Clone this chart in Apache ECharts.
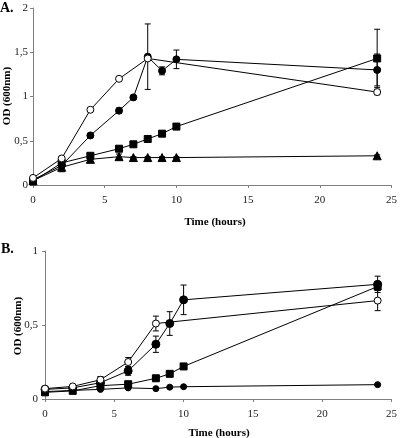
<!DOCTYPE html>
<html>
<head>
<meta charset="utf-8">
<script src="https://cdn.jsdelivr.net/npm/echarts@6/dist/echarts.min.js"></script>
<style>html,body{margin:0;padding:0;background:#fff}#c{width:400px;height:438px}</style>
</head>
<body>
<div id="c"></div>
<script>
// ---- Panel A data ----
const hoursA = [0, 2, 4, 6, 7, 8, 9, 10, 24];
const hoursAOpen = [0, 2, 4, 6, 8, 24];
const aOpen = [0.08, 0.30, 0.85, 1.20, 1.43, 1.05];
const aOpenErr = [0, 0.02, 0.02, 0.02, 0.02, 0.03];
const aFilled = [0.06, 0.22, 0.56, 0.84, 0.99, 1.45, 1.29, 1.42, 1.30];
const aFilledErr = [0, 0, 0.02, 0.03, 0.02, 0.37, 0.045, 0.105, 0.18];
const aSquare = [0.04, 0.25, 0.33, 0.41, 0.46, 0.52, 0.58, 0.66, 1.43];
const aSquareErr = [0, 0.02, 0.02, 0.02, 0.01, 0.01, 0.01, 0.02, 0.33];
const aTriangle = [0.05, 0.20, 0.29, 0.32, 0.31, 0.31, 0.31, 0.31, 0.33];
const aTriangleErr = [0, 0.05, 0.02, 0.03, 0.01, 0.01, 0.01, 0.01, 0.01];

// ---- Panel B data ----
const hoursB = [0, 2, 4, 6, 8, 9, 10, 24];
const hoursBOpen = [0, 2, 4, 6, 8, 24];
const bOpen = [0.07, 0.085, 0.13, 0.25, 0.51, 0.665];
const bOpenErr = [0, 0.01, 0.022, 0.03, 0.05, 0.068];
const bFilled = [0.065, 0.075, 0.11, 0.19, 0.37, 0.51, 0.67, 0.775];
const bFilledErr = [0, 0, 0.01, 0.03, 0.055, 0.08, 0.1, 0.055];
const bSquare = [0.045, 0.055, 0.09, 0.10, 0.14, 0.17, 0.22, 0.76];
const bSquareErr = [0, 0, 0.01, 0.01, 0.01, 0.01, 0.02, 0.02];
const bSmall = [0.05, 0.058, 0.065, 0.075, 0.07, 0.08, 0.083, 0.097];
const bSmallErr = [0, 0, 0.005, 0.005, 0.005, 0.005, 0.005, 0.006];

const xName = 'Time (hours)';
const yName = 'OD (600nm)';

const FONT = '"Liberation Serif", "Times New Roman", serif';
const AXIS_COLOR = '#808080';

function pairs(xs, ys) { return xs.map((x, i) => [x, ys[i]]); }
function errs(xs, ys, es) {
  const out = [];
  xs.forEach((x, i) => { if (es[i] > 0) out.push([x, ys[i] - es[i], ys[i] + es[i]]); });
  return out;
}

function errSeries(idx, data) {
  return {
    type: 'custom', xAxisIndex: idx, yAxisIndex: idx, z: 1,
    encode: { x: 0, y: [1, 2] },
    data: data,
    renderItem: function (params, api) {
      const x = api.value(0), lo = api.value(1), hi = api.value(2);
      const pt = api.coord([x, hi]), pb = api.coord([x, lo]);
      const w = 3;
      const st = { stroke: '#000', lineWidth: 1 };
      return {
        type: 'group', children: [
          { type: 'line', shape: { x1: pt[0], y1: pt[1], x2: pb[0], y2: pb[1] }, style: st },
          { type: 'line', shape: { x1: pt[0] - w, y1: pt[1], x2: pt[0] + w, y2: pt[1] }, style: st },
          { type: 'line', shape: { x1: pb[0] - w, y1: pb[1], x2: pb[0] + w, y2: pb[1] }, style: st }
        ]
      };
    }
  };
}

function lineSeries(idx, data, symbol, size, filled) {
  return {
    type: 'line', xAxisIndex: idx, yAxisIndex: idx, z: 3,
    data: data, symbol: symbol, symbolSize: size, showSymbol: true,
    lineStyle: { color: '#000', width: 1 },
    itemStyle: { color: filled ? '#000' : '#fff', borderColor: '#000', borderWidth: 1 },
    emphasis: { disabled: true }
  };
}

function xAxis(idx) {
  return {
    type: 'value', gridIndex: idx, min: 0, max: 25, interval: 5,
    axisLine: { show: true, lineStyle: { color: AXIS_COLOR, width: 1 } },
    axisTick: { show: true, length: 3, lineStyle: { color: AXIS_COLOR } },
    axisLabel: { fontFamily: FONT, fontSize: 11, color: '#222', margin: 10 },
    splitLine: { show: false }
  };
}
function yAxis(idx, max, margin) {
  return {
    type: 'value', gridIndex: idx, min: 0, max: max, interval: 0.5,
    axisLine: { show: true, lineStyle: { color: AXIS_COLOR, width: 1 } },
    axisTick: { show: true, length: 3, lineStyle: { color: AXIS_COLOR } },
    axisLabel: { fontFamily: FONT, fontSize: 11, color: '#222', margin: margin,
      formatter: v => String(v).replace('.', ',') },
    splitLine: { show: false }
  };
}

function nameText(text, x, y, rot) {
  return {
    type: 'text', x: x, y: y, rotation: rot,
    style: { text: text, font: 'bold 11px ' + FONT, fill: '#000', align: 'center', verticalAlign: 'middle' }
  };
}

const chart = echarts.init(document.getElementById('c'), null, { renderer: 'canvas' });
chart.setOption({
  animation: false,
  backgroundColor: '#fff',
  grid: [
    { left: 33, top: 8, width: 363, height: 177 },
    { left: 45, top: 251, width: 350, height: 148 }
  ],
  xAxis: [xAxis(0), xAxis(1)],
  yAxis: [yAxis(0, 2, 5), yAxis(1, 1, 7)],
  graphic: [
    { type: 'text', left: 0, top: 1, style: { text: 'A.', font: 'bold 14px ' + FONT, fill: '#000' } },
    { type: 'text', left: 1, top: 242, style: { text: 'B.', font: 'bold 14px ' + FONT, fill: '#000' } },
    nameText(xName, 215, 222, 0),
    nameText(xName, 219, 433, 0),
    nameText(yName, 7, 96, Math.PI / 2),
    nameText(yName, 18, 326, Math.PI / 2)
  ],
  series: [
    errSeries(0, errs(hoursAOpen, aOpen, aOpenErr)),
    errSeries(0, errs(hoursA, aFilled, aFilledErr)),
    errSeries(0, errs(hoursA, aSquare, aSquareErr)),
    errSeries(0, errs(hoursA, aTriangle, aTriangleErr)),
    lineSeries(0, pairs(hoursA, aTriangle), 'triangle', 8, true),
    lineSeries(0, pairs(hoursA, aSquare), 'rect', 7, true),
    lineSeries(0, pairs(hoursA, aFilled), 'circle', 7, true),
    lineSeries(0, pairs(hoursAOpen, aOpen), 'circle', 7, false),

    errSeries(1, errs(hoursBOpen, bOpen, bOpenErr)),
    errSeries(1, errs(hoursB, bFilled, bFilledErr)),
    errSeries(1, errs(hoursB, bSquare, bSquareErr)),
    errSeries(1, errs(hoursB, bSmall, bSmallErr)),
    lineSeries(1, pairs(hoursB, bSmall), 'circle', 6, true),
    lineSeries(1, pairs(hoursB, bSquare), 'rect', 7, true),
    lineSeries(1, pairs(hoursB, bFilled), 'circle', 8, true),
    lineSeries(1, pairs(hoursBOpen, bOpen), 'circle', 7, false)
  ]
});
</script>
</body>
</html>
